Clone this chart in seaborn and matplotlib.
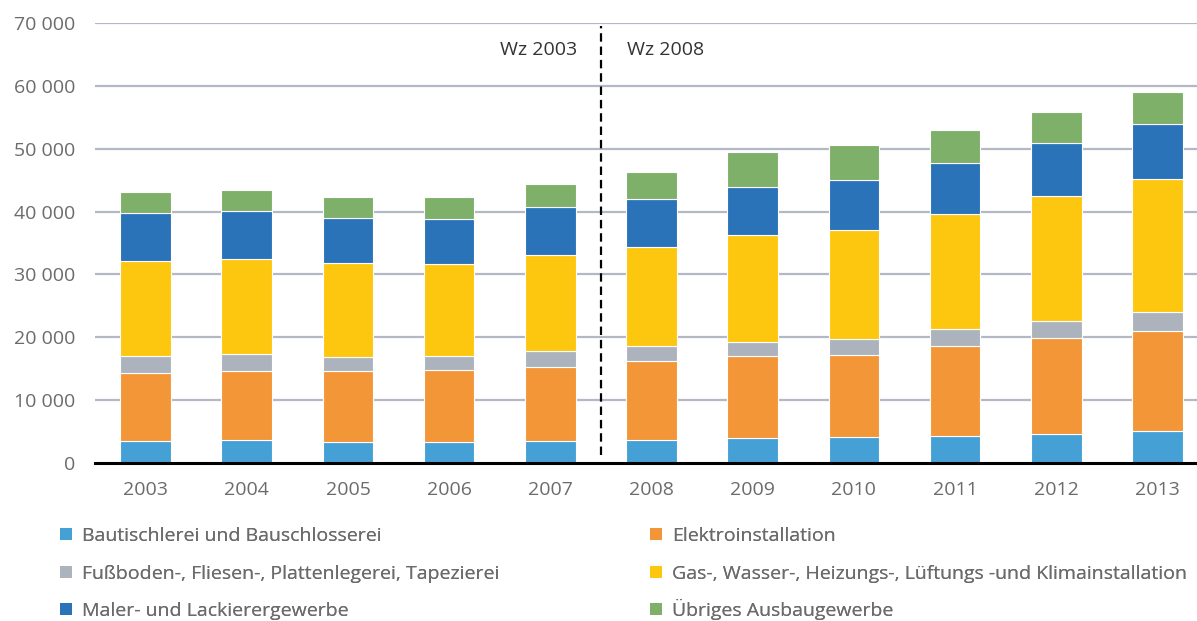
import numpy as np
import pandas as pd
import seaborn as sns
import matplotlib.pyplot as plt
from matplotlib.patches import Patch
from matplotlib.ticker import FuncFormatter

years = ['2003', '2004', '2005', '2006', '2007', '2008', '2009', '2010', '2011', '2012', '2013']

bau = [3500, 3600, 3350, 3350, 3450, 3600, 3950, 4100, 4350, 4600, 5050]
elektro = [10870, 11080, 11300, 11450, 11830, 12590, 13000, 13100, 14300, 15250, 16000]
fussboden = [2700, 2600, 2250, 2200, 2600, 2500, 2350, 2450, 2600, 2800, 2950]
gas = [15050, 15150, 14850, 14700, 15200, 15650, 16950, 17450, 18400, 19900, 21200]
maler = [7600, 7600, 7150, 7150, 7600, 7650, 7700, 7900, 8100, 8350, 8750]
uebrige = [3400, 3350, 3400, 3400, 3700, 4250, 5450, 5600, 5300, 4950, 5050]

names = ['Bautischlerei und Bauschlosserei', 'Elektroinstallation',
         'Fußboden-, Fliesen-, Plattenlegerei, Tapezierei',
         'Gas-, Wasser-, Heizungs-, Lüftungs -und Klimainstallation',
         'Maler- und Lackierergewerbe', 'Übriges Ausbaugewerbe']
colors = ['#45A0D5', '#F39638', '#ADB3BD', '#FDC70F', '#2A73B9', '#7EB06A']
series = [bau, elektro, fussboden, gas, maler, uebrige]

sns.set_style('white')
plt.rcParams['font.family'] = ['Open Sans', 'DejaVu Sans']

fig = plt.figure(figsize=(11.97, 6.21), dpi=100)
ax = fig.add_axes([95 / 1197, 158 / 621, 1113 / 1197, 440 / 621])

bottom = np.zeros(len(years))
for vals, col in zip(series, colors):
    sns.barplot(x=years, y=vals, bottom=bottom, color=col, saturation=1, width=0.5,
                edgecolor='white', linewidth=0.8, errorbar=None, ax=ax, zorder=3)
    bottom = bottom + np.array(vals)

ax.set_ylim(0, 70000)
ax.set_xlim(-0.5, 10.5)
ax.set_yticks(range(0, 70001, 10000))
ax.yaxis.set_major_formatter(FuncFormatter(lambda v, p: f'{int(v):,}'.replace(',', ' ')))
for y in range(10000, 70001, 10000):
    ax.axhline(y, color='#B4B8C5', lw=1.6, zorder=1)

for s in ['top', 'right', 'left']:
    ax.spines[s].set_visible(False)
ax.spines['bottom'].set_color('black')
ax.spines['bottom'].set_linewidth(2.2)
ax.spines['bottom'].set_zorder(5)
ax.tick_params(axis='both', length=0, labelsize=14, colors='#6b6b6b')
ax.tick_params(axis='y', pad=14)
ax.tick_params(axis='x', pad=13)
ax.set_xlabel('')
ax.set_ylabel('')

ax.vlines(4.5, 1200, 69500, colors='black', lw=1.6, linestyles=(0, (3.8, 2.2)), zorder=4)
ax.text(4.26, 65700, 'Wz 2003', ha='right', va='center', fontsize=14, color='#333333')
ax.text(4.76, 65700, 'Wz 2008', ha='left', va='center', fontsize=14, color='#333333')

# legend: one entry per slot, two columns x three rows
col_x = [60, 650]
row_y = [545, 583, 620]
for i, (name, col) in enumerate(zip(names, colors)):
    x = col_x[i % 2]
    y = row_y[i // 2]
    leg = fig.legend([Patch(facecolor=col, edgecolor='none')], [name],
                     loc='lower left', bbox_to_anchor=(x / 1197, 1 - y / 621),
                     frameon=False, fontsize=14, handlelength=0.6, handleheight=0.6,
                     handletextpad=0.55, borderpad=0, borderaxespad=0)
    for t in leg.get_texts():
        t.set_color('#6b6b6b')
    fig.add_artist(leg)

fig.savefig('out.png', dpi=100)
